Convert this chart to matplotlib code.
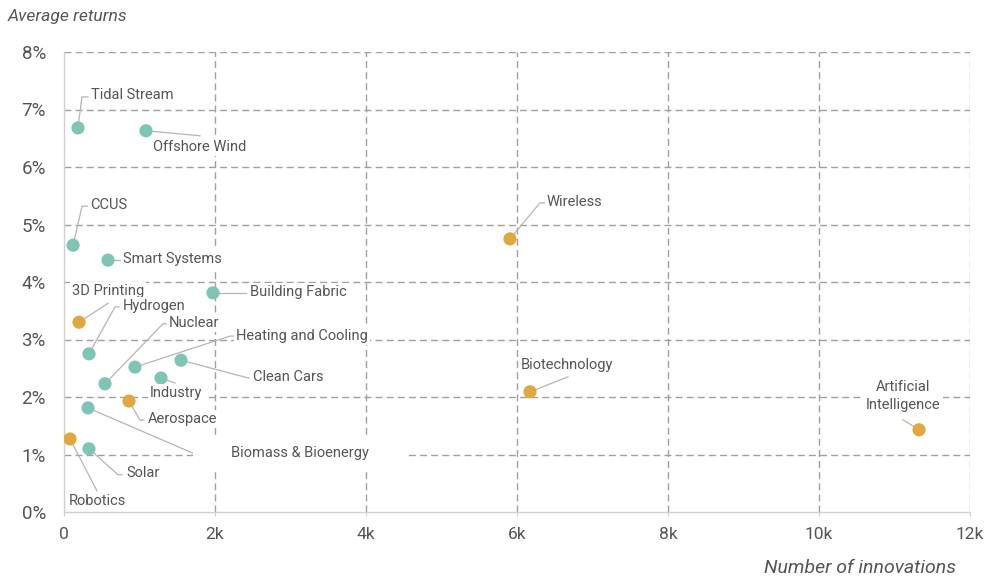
import numpy as np
import matplotlib.pyplot as plt
import matplotlib.transforms as mtransforms

plt.rcParams['font.family'] = ['Roboto', 'DejaVu Sans']

# data: number of innovations vs average returns (%)
names = ['Tidal Stream', 'Offshore Wind', 'CCUS', 'Smart Systems', 'Building Fabric',
         '3D Printing', 'Hydrogen', 'Nuclear', 'Heating and Cooling', 'Clean Cars',
         'Industry', 'Aerospace', 'Biomass & Bioenergy', 'Robotics', 'Solar',
         'Wireless', 'Biotechnology', 'Artificial\nIntelligence']
innovations = [185, 1086, 120, 583, 1973, 199, 331, 543, 940, 1550,
               1285, 861, 318, 80, 331, 5907, 6172, 11325]
returns = [6.68, 6.63, 4.64, 4.38, 3.81, 3.30, 2.75, 2.23, 2.52, 2.64,
           2.33, 1.93, 1.81, 1.27, 1.10, 4.75, 2.09, 1.43]
group = ['clean', 'clean', 'clean', 'clean', 'clean', 'other', 'clean', 'clean', 'clean', 'clean',
         'clean', 'other', 'clean', 'other', 'clean', 'other', 'other', 'other']

x_ticks = [0, 2000, 4000, 6000, 8000, 10000, 12000]
x_labels = ['0', '2k', '4k', '6k', '8k', '10k', '12k']
y_ticks = [0, 1, 2, 3, 4, 5, 6, 7, 8]
y_labels = ['0%', '1%', '2%', '3%', '4%', '5%', '6%', '7%', '8%']

colors = {'clean': '#7fc5b6', 'other': '#e0a93f'}

# label layout, pixel offsets from the dot (y down): text pos, ha, leader path
label_layout = {
    'Tidal Stream': ((13, -33), 'left', [(4, -31), (10, -31)]),
    'Offshore Wind': ((7, 16), 'left', [(54, 5)]),
    'CCUS': ((17, -40), 'left', [(9, -39), (15, -39)]),
    'Smart Systems': ((15, -1), 'left', [(12, 0)]),
    'Building Fabric': ((37, -1), 'left', [(33, 0)]),
    '3D Printing': ((-7, -31), 'left', [(29, -19)]),
    'Hydrogen': ((34, -48), 'left', [(26, -47), (30, -47)]),
    'Nuclear': ((64, -61), 'left', [(58, -60), (62, -60)]),
    'Heating and Cooling': ((101, -31), 'left', [(95, -31), (99, -31)]),
    'Clean Cars': ((72, 17), 'left', [(68, 18)]),
    'Industry': ((-11, 15), 'left', [(14, 5)]),
    'Aerospace': ((19, 18), 'left', [(11, 19), (15, 19)]),
    'Biomass & Bioenergy': ((212, 45), 'center', [(109, 47)]),
    'Robotics': ((-1, 62), 'left', [(27, 52)]),
    'Solar': ((37, 24), 'left', [(29, 26), (33, 26)]),
    'Wireless': ((37, -37), 'left', [(30, -36), (35, -36)]),
    'Biotechnology': ((-9, -27), 'left', [(38, -15)]),
    'Artificial\nIntelligence': ((-16, -34), 'center', [(-16, -10)]),
}

fig = plt.figure(figsize=(9.85, 5.81), dpi=100)
ax = fig.add_axes([64 / 985, 69 / 581, 906 / 985, 460 / 581])
ax.set_xlim(0, 12000)
ax.set_ylim(0, 8)

grid_kw = dict(color='#a0a0a0', lw=1.0, ls=(0, (5, 3)), zorder=1)
for yv in y_ticks[1:]:
    ax.axhline(yv, **grid_kw)
for xv in x_ticks[1:]:
    ax.axvline(xv, **grid_kw)

for s in ['top', 'right']:
    ax.spines[s].set_visible(False)
for s in ['left', 'bottom']:
    ax.spines[s].set_color('#d0d0d0')
    ax.spines[s].set_linewidth(1.0)

ax.set_xticks(x_ticks, x_labels)
ax.set_yticks(y_ticks, y_labels)
ax.tick_params(axis='x', length=3, color='#d0d0d0', labelsize=12.5, labelcolor='#555555', pad=8)
ax.tick_params(axis='y', length=0, labelsize=13.5, labelcolor='#555555', pad=13)

ax.scatter(innovations, returns, s=90, c=[colors[g] for g in group], zorder=3, linewidths=0)

fig.canvas.draw()
for name, xv, yv in zip(names, innovations, returns):
    (tx, ty), ha, path = label_layout[name]
    trans = mtransforms.Affine2D().scale(1, -1) + mtransforms.ScaledTranslation(xv, yv, ax.transData)
    px = [0] + [p[0] for p in path]
    py = [0] + [p[1] for p in path]
    ax.plot(px, py, color='#b5b5b5', lw=0.9, transform=trans, zorder=2.5)
    text = name
    pad = 0.15
    if name == 'Biomass & Bioenergy':
        text = '        ' + name + '        '
        pad = 0.6
    ax.annotate(text, xy=(xv, yv), xytext=(tx, -ty), textcoords='offset pixels',
                ha=ha, va='center', fontsize=10.5, color='#555555', linespacing=1.35,
                bbox=dict(boxstyle='square,pad=%s' % pad, fc='white', ec='none'), zorder=4)

fig.text(8 / 985, 1 - 17 / 581, 'Average returns', ha='left', va='center',
         fontsize=12.6, style='italic', color='#555555')
fig.text(956 / 985, 1 - 568 / 581, 'Number of innovations', ha='right', va='center',
         fontsize=14, style='italic', color='#555555')

fig.savefig('out.png', dpi=100)
